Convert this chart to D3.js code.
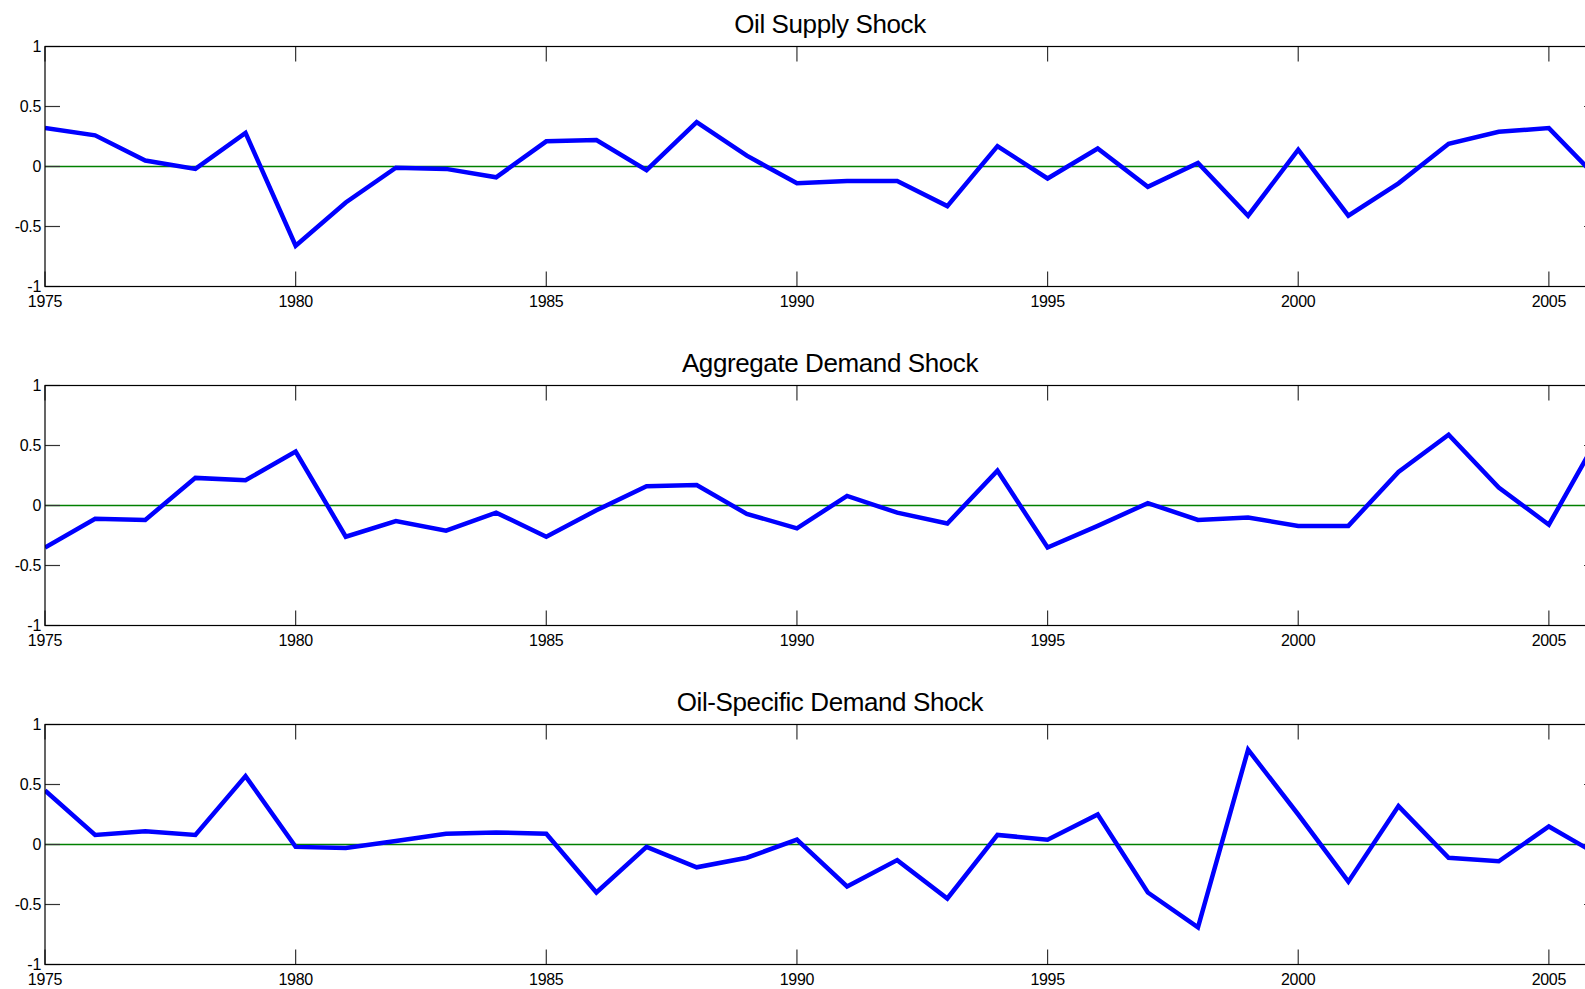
<!DOCTYPE html>
<html lang="en-US">
<head>
    <meta charset="utf-8">
    <script src="https://d3js.org/d3.v7.min.js"></script>
    <style>
        body { margin: 0; background: #fff; overflow: hidden; }
        text { font-family: "Liberation Sans", Arial, sans-serif; fill: #000; }
        .tick-label { font-size: 16px; letter-spacing: -0.3px; }
        .title { font-size: 26px; letter-spacing: -0.4px; }
        .frame { fill: none; stroke: #000; stroke-width: 1.2; }
        .tick { stroke: #333; stroke-width: 1.2; }
        .zero { stroke: #008000; stroke-width: 1.3; }
        .series { fill: none; stroke: #0000ff; stroke-width: 4.5; stroke-linejoin: miter; }
    </style>
</head>
<body>
<div id="canvas"></div>
<script>
    var years = d3.range(1975, 2007);

    var titles = ["Oil Supply Shock", "Aggregate Demand Shock", "Oil-Specific Demand Shock"];

    var oilSupply = [0.32, 0.26, 0.05, -0.02, 0.28, -0.66, -0.30, -0.01, -0.02, -0.09,
                     0.21, 0.22, -0.03, 0.37, 0.09, -0.14, -0.12, -0.12, -0.33, 0.17,
                     -0.10, 0.15, -0.17, 0.03, -0.41, 0.14, -0.41, -0.14, 0.19, 0.29,
                     0.32, -0.11];

    var aggDemand = [-0.35, -0.11, -0.12, 0.23, 0.21, 0.45, -0.26, -0.13, -0.21, -0.06,
                     -0.26, -0.04, 0.16, 0.17, -0.07, -0.19, 0.08, -0.06, -0.15, 0.29,
                     -0.35, -0.17, 0.02, -0.12, -0.10, -0.17, -0.17, 0.28, 0.59, 0.15,
                     -0.16, 0.58];

    var oilSpecific = [0.45, 0.08, 0.11, 0.08, 0.57, -0.02, -0.03, 0.03, 0.09, 0.10,
                       0.09, -0.40, -0.02, -0.19, -0.11, 0.04, -0.35, -0.13, -0.45, 0.08,
                       0.04, 0.25, -0.40, -0.69, 0.79, 0.25, -0.31, 0.32, -0.11, -0.14,
                       0.15, -0.09];

    var series = [oilSupply, aggDemand, oilSpecific];

    var xTicks = [1975, 1980, 1985, 1990, 1995, 2000, 2005];
    var yTicks = [-1, -0.5, 0, 0.5, 1];

    var svg = d3.select("#canvas")
        .append("svg")
        .attr("width", 1585)
        .attr("height", 989);

    var left = 45, right = 1599;
    var panelTop = 46.5, panelStep = 339, panelHeight = 240;
    var tickLen = 15;

    var x = d3.scaleLinear().domain([1975, 2006]).range([left, right]);

    series.forEach(function (values, i) {
        var top = panelTop + i * panelStep;
        var bottom = top + panelHeight;
        var y = d3.scaleLinear().domain([-1, 1]).range([bottom, top]);

        var g = svg.append("g");

        g.append("defs").append("clipPath")
            .attr("id", "clip" + i)
            .append("rect")
            .attr("x", left).attr("y", top)
            .attr("width", right - left).attr("height", panelHeight);

        // zero line
        g.append("line")
            .attr("class", "zero")
            .attr("x1", left).attr("x2", right)
            .attr("y1", y(0)).attr("y2", y(0));

        // x ticks, top and bottom, pointing inward
        g.selectAll(".xt").data(xTicks).enter().append("line")
            .attr("class", "tick")
            .attr("x1", x).attr("x2", x)
            .attr("y1", top).attr("y2", top + tickLen);
        g.selectAll(".xb").data(xTicks).enter().append("line")
            .attr("class", "tick")
            .attr("x1", x).attr("x2", x)
            .attr("y1", bottom).attr("y2", bottom - tickLen);

        // y ticks, left and right
        g.selectAll(".yl").data(yTicks).enter().append("line")
            .attr("class", "tick")
            .attr("x1", left).attr("x2", left + tickLen)
            .attr("y1", y).attr("y2", y);
        g.selectAll(".yr").data(yTicks).enter().append("line")
            .attr("class", "tick")
            .attr("x1", right).attr("x2", right - tickLen)
            .attr("y1", y).attr("y2", y);

        var line = d3.line()
            .x(function (d, j) { return x(years[j]); })
            .y(function (d) { return y(d); });

        g.append("path")
            .datum(values)
            .attr("class", "series")
            .attr("clip-path", "url(#clip" + i + ")")
            .attr("d", line);

        g.append("rect")
            .attr("class", "frame")
            .attr("x", left).attr("y", top)
            .attr("width", right - left).attr("height", panelHeight);

        // tick labels
        g.selectAll(".xl").data(xTicks).enter().append("text")
            .attr("class", "tick-label")
            .attr("x", x)
            .attr("y", bottom + 20)
            .attr("text-anchor", "middle")
            .text(function (d) { return d; });

        g.selectAll(".ylab").data(yTicks).enter().append("text")
            .attr("class", "tick-label")
            .attr("x", left - 4)
            .attr("y", y)
            .attr("dy", "0.36em")
            .attr("text-anchor", "end")
            .text(function (d) { return String(d); });

        g.append("text")
            .attr("class", "title")
            .attr("x", (left + right) / 2 + 8)
            .attr("y", top - 14)
            .attr("text-anchor", "middle")
            .text(titles[i]);
    });
</script>
</body>
</html>
